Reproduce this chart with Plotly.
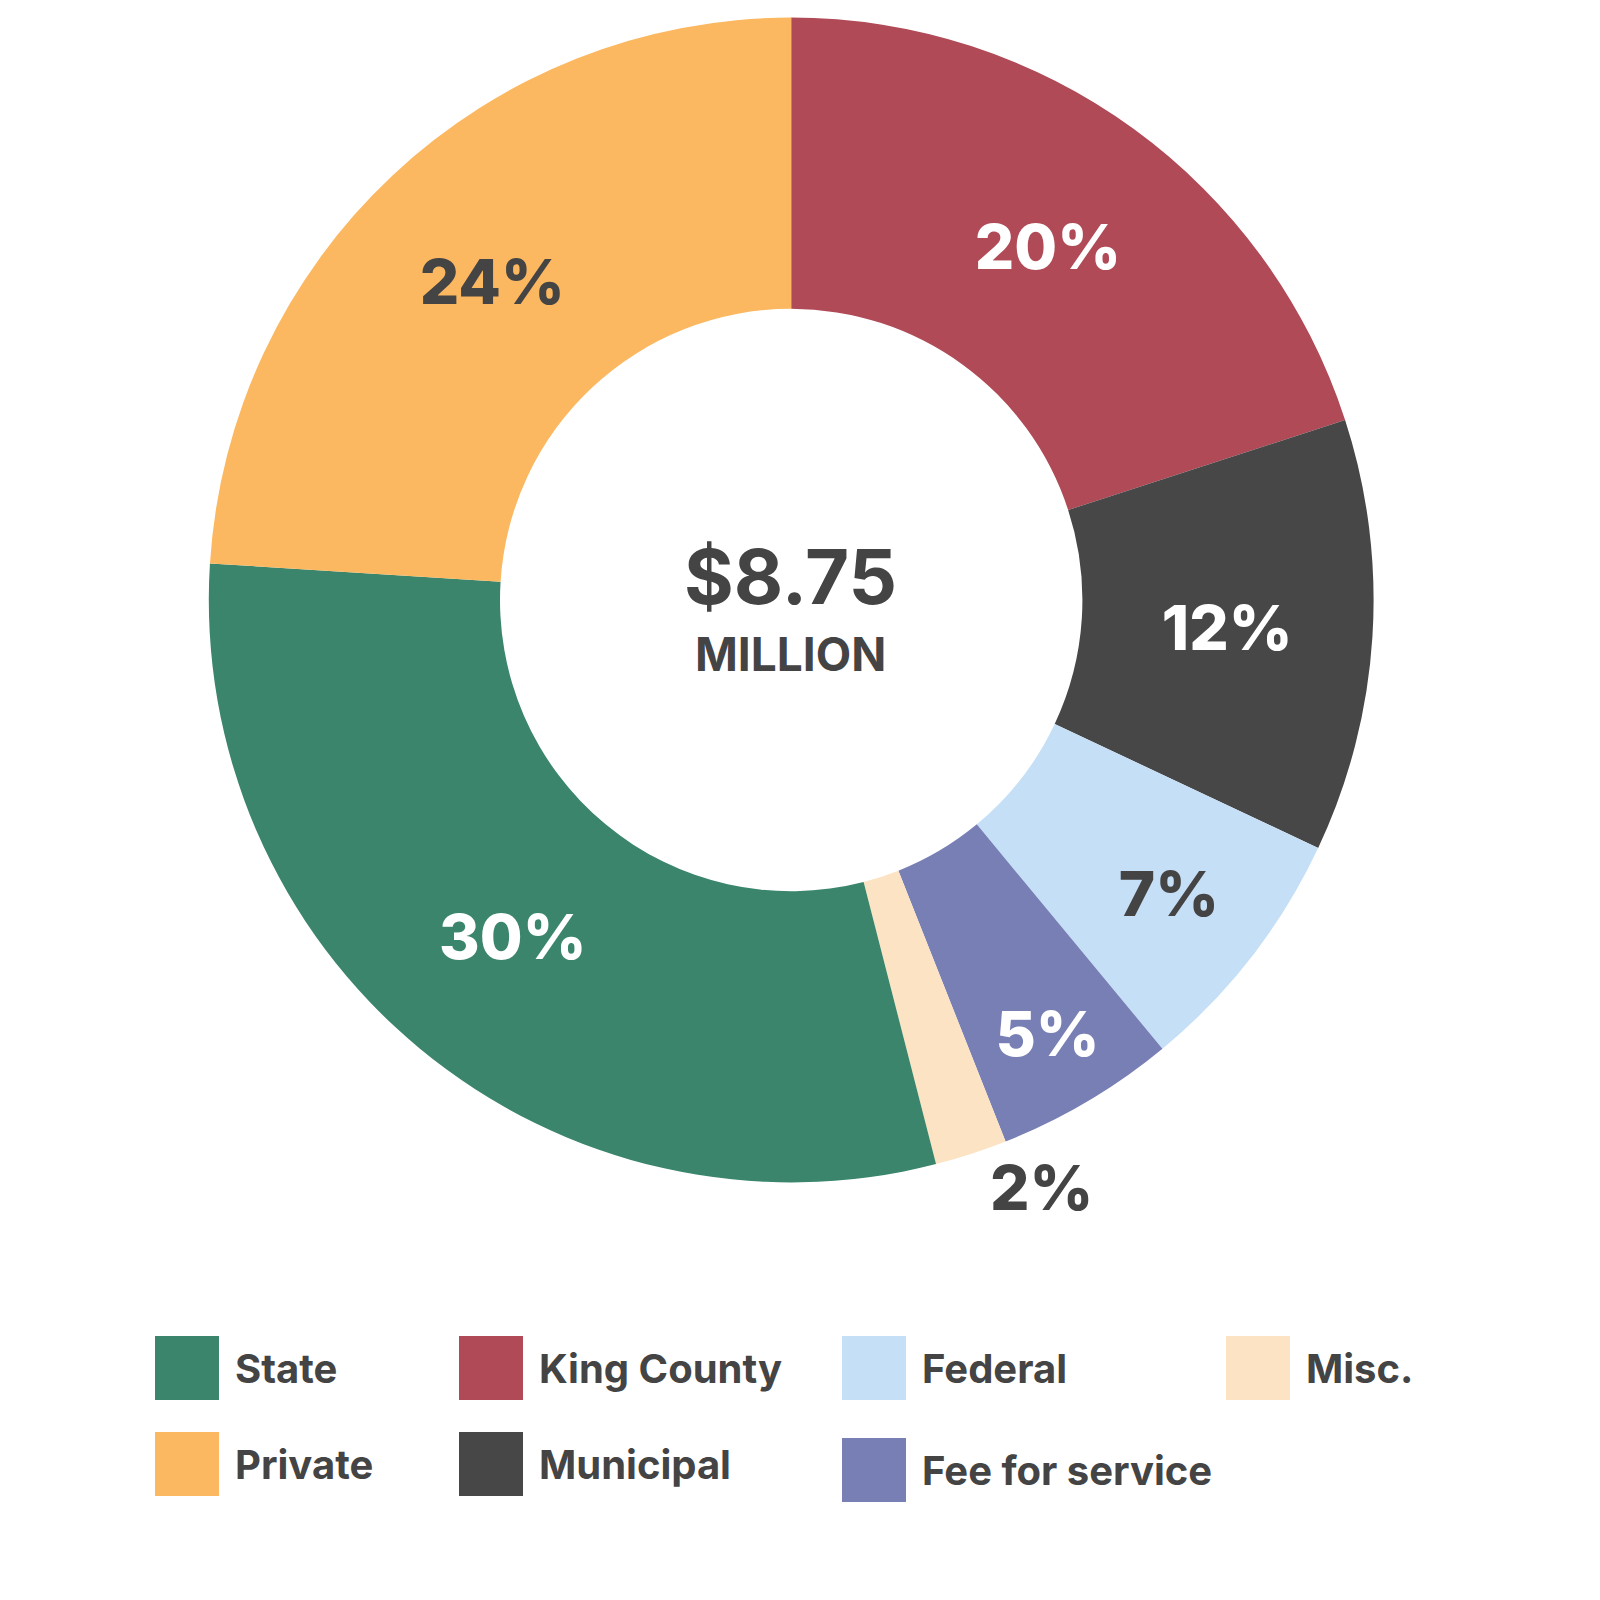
import plotly.graph_objects as go

labels = ["King County", "Municipal", "Federal", "Fee for service", "Misc.", "State", "Private"]
values = [20, 12, 7, 5, 2, 30, 24]
colors = ["#B04A57", "#474747", "#C5DFF7", "#777FB5", "#FCE3C3", "#3A856B", "#FBB860"]
text_colors = ["white", "white", "#444444", "white", "#444444", "white", "#444444"]
positions = ["inside", "inside", "inside", "inside", "outside", "inside", "inside"]
legend_order = ["State", "King County", "Federal", "Misc.", "Private", "Municipal", "Fee for service"]

W = H = 1600
fig = go.Figure(go.Pie(
    labels=labels, values=values, sort=False, direction="clockwise", rotation=0,
    hole=0.5, marker=dict(colors=colors, line=dict(width=0)),
    texttemplate="%{percent:.0%}", textposition=positions,
    insidetextorientation="horizontal",
    textfont=dict(family="Inter", size=62, color=text_colors, weight=800),
    outsidetextfont=dict(family="Inter", size=62, color="#444444", weight=800),
    domain=dict(x=[0.125, 0.854], y=[0.266, 0.994]),
    showlegend=False, hoverinfo="label+percent",
))

fig.add_annotation(x=0.489, y=0.645, xref="paper", yref="paper", text="<b>$8.75</b>",
                   showarrow=False, font=dict(family="Inter", size=76, color="#444444"))
fig.add_annotation(x=0.489, y=0.596, xref="paper", yref="paper", text="<b>MILLION</b>",
                   showarrow=False, font=dict(family="Inter", size=46, color="#444444"))

col_x = [147, 451, 834, 1218]
row_y = [1328, 1424]
for i, name in enumerate(legend_order):
    r, c = divmod(i, 4)
    x0, y0 = col_x[c], row_y[r] + (6 if name == "Fee for service" else 0)
    col = colors[labels.index(name)]
    fig.add_shape(type="rect", xref="paper", yref="paper",
                  x0=x0 / W, x1=(x0 + 64) / W, y0=1 - (y0 + 64) / H, y1=1 - y0 / H,
                  fillcolor=col, line=dict(width=0))
    fig.add_annotation(x=(x0 + 78) / W, y=1 - (y0 + 32) / H, xref="paper", yref="paper",
                       xanchor="left", yanchor="middle", text=f"<b>{name}</b>", showarrow=False,
                       font=dict(family="Inter", size=40, color="#444444"))

fig.update_layout(width=W, height=H, margin=dict(l=0, r=0, t=0, b=0),
                  paper_bgcolor="white", plot_bgcolor="white")
fig.write_html("out.html")
